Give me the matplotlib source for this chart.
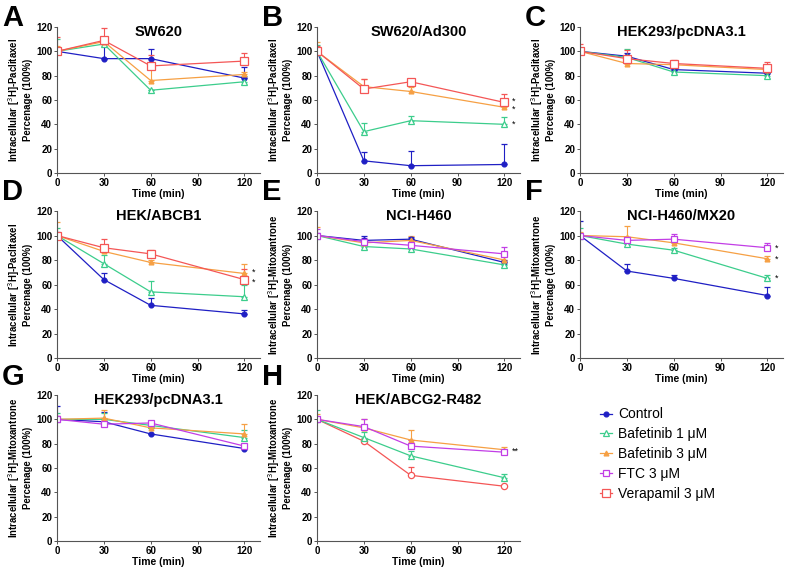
import numpy as np
import matplotlib.pyplot as plt

plt.rcParams['font.family'] = ['Liberation Sans', 'DejaVu Sans']

times = [0, 30, 60, 120]
labels = ["Control", "Bafetinib 1 \u03bcM", "Bafetinib 3 \u03bcM", "FTC 3 \u03bcM", "Verapamil 3 \u03bcM"]
colors = ["#1f1fc4", "#3ccd8c", "#f6a044", "#c23ee6", "#f45656"]

# A  SW620
A_ctrl = [100, 94, 94, 78];  A_ctrl_err = [0, 12, 8, 9]
A_baf1 = [100, 106, 68, 75]; A_baf1_err = [10, 2, 0, 5]
A_baf3 = [100, 108, 76, 81]; A_baf3_err = [4, 2, 18, 2]
A_vera = [100, 109, 88, 92]; A_vera_err = [12, 10, 9, 7]
# B  SW620/Ad300
B_ctrl = [100, 10, 6, 7];    B_ctrl_err = [0, 7, 12, 17]
B_baf1 = [100, 34, 43, 40];  B_baf1_err = [5, 7, 4, 6]
B_baf3 = [100, 71, 67, 54];  B_baf3_err = [8, 6, 4, 2]
B_vera = [100, 69, 75, 58];  B_vera_err = [4, 8, 2, 7]
B_stars = [59, 52, 40]
# C  HEK293/pcDNA3.1 (paclitaxel)
C_ctrl = [100, 96, 85, 82];  C_ctrl_err = [0, 3, 2, 3]
C_baf1 = [100, 95, 83, 80];  C_baf1_err = [0, 7, 3, 2]
C_baf3 = [100, 90, 89, 85];  C_baf3_err = [0, 2, 3, 3]
C_vera = [100, 94, 90, 86];  C_vera_err = [6, 7, 3, 5]
# D  HEK/ABCB1
D_ctrl = [100, 64, 43, 36];  D_ctrl_err = [3, 5, 6, 3]
D_baf1 = [100, 77, 54, 50];  D_baf1_err = [6, 7, 9, 10]
D_baf3 = [100, 87, 78, 69];  D_baf3_err = [11, 5, 2, 8]
D_vera = [100, 90, 85, 64];  D_vera_err = [2, 7, 3, 9]
D_stars = [70, 62]
# E  NCI-H460
E_ctrl = [100, 96, 97, 78];  E_ctrl_err = [2, 4, 2, 2]
E_baf1 = [100, 91, 89, 76];  E_baf1_err = [0, 2, 2, 1]
E_baf3 = [100, 94, 96, 80];  E_baf3_err = [7, 3, 4, 5]
E_ftc = [100, 95, 92, 85];   E_ftc_err = [5, 3, 3, 6]
# F  NCI-H460/MX20
F_ctrl = [100, 71, 65, 51];  F_ctrl_err = [12, 6, 3, 7]
F_baf1 = [100, 93, 88, 65];  F_baf1_err = [6, 2, 2, 3]
F_baf3 = [100, 99, 94, 81];  F_baf3_err = [3, 9, 2, 2]
F_ftc = [100, 96, 97, 90];   F_ftc_err = [0, 3, 4, 4]
F_stars = [90, 81, 65]
# G  HEK293/pcDNA3.1 (mitoxantrone)
G_ctrl = [100, 98, 88, 76];  G_ctrl_err = [11, 8, 0, 2]
G_baf1 = [100, 100, 95, 85]; G_baf1_err = [5, 5, 3, 6]
G_baf3 = [100, 101, 93, 88]; G_baf3_err = [3, 7, 6, 8]
G_ftc = [100, 96, 97, 78];   G_ftc_err = [3, 3, 2, 2]
# H  HEK/ABCG2-R482
H_red = [100, 82, 54, 45];   H_red_err = [0, 2, 7, 0]
H_baf1 = [100, 85, 70, 52];  H_baf1_err = [8, 5, 4, 3]
H_baf3 = [100, 93, 83, 75];  H_baf3_err = [4, 7, 8, 2]
H_ftc = [100, 94, 78, 73];   H_ftc_err = [2, 6, 5, 2]
H_stars = [74]

# marker styles: (marker, filled, size)
sty = {0: ('o', True, 3.5), 1: ('^', False, 4), 2: ('^', True, 3.5), 3: ('s', False, 5), 4: ('s', False, 5.5)}

pac = "Intracellular [$^3$H]-Paclitaxel\nPercenage (100%)"
mit = "Intracellular [$^3$H]-Mitoxantrone\nPercenage (100%)"

panels = [
    ("A", "SW620", pac, [(0, A_ctrl, A_ctrl_err), (1, A_baf1, A_baf1_err), (2, A_baf3, A_baf3_err), (4, A_vera, A_vera_err)], [], "*"),
    ("B", "SW620/Ad300", pac, [(0, B_ctrl, B_ctrl_err), (1, B_baf1, B_baf1_err), (2, B_baf3, B_baf3_err), (4, B_vera, B_vera_err)], B_stars, "*"),
    ("C", "HEK293/pcDNA3.1", pac, [(0, C_ctrl, C_ctrl_err), (1, C_baf1, C_baf1_err), (2, C_baf3, C_baf3_err), (4, C_vera, C_vera_err)], [], "*"),
    ("D", "HEK/ABCB1", pac, [(0, D_ctrl, D_ctrl_err), (1, D_baf1, D_baf1_err), (2, D_baf3, D_baf3_err), (4, D_vera, D_vera_err)], D_stars, "*"),
    ("E", "NCI-H460", mit, [(0, E_ctrl, E_ctrl_err), (1, E_baf1, E_baf1_err), (2, E_baf3, E_baf3_err), (3, E_ftc, E_ftc_err)], [], "*"),
    ("F", "NCI-H460/MX20", mit, [(0, F_ctrl, F_ctrl_err), (1, F_baf1, F_baf1_err), (2, F_baf3, F_baf3_err), (3, F_ftc, F_ftc_err)], F_stars, "*"),
    ("G", "HEK293/pcDNA3.1", mit, [(0, G_ctrl, G_ctrl_err), (1, G_baf1, G_baf1_err), (2, G_baf3, G_baf3_err), (3, G_ftc, G_ftc_err)], [], "*"),
    ("H", "HEK/ABCG2-R482", mit, [(4, H_red, H_red_err), (1, H_baf1, H_baf1_err), (2, H_baf3, H_baf3_err), (3, H_ftc, H_ftc_err)], H_stars, "**"),
]

W, H = 787, 568
fig = plt.figure(figsize=(W / 100, H / 100), dpi=100)

col_x = [57, 317, 580]
row_y = [(27, 173), (211, 358), (395, 541)]
letter_y = [18, 192, 377]
ax_w = 203

for i, (letter, title, ylab, series, stars, star_txt) in enumerate(panels):
    r, c = divmod(i, 3)
    top, bot = row_y[r]
    ax = fig.add_axes([col_x[c] / W, 1 - bot / H, ax_w / W, (bot - top) / H])
    for k, y, e in series:
        m, filled, ms = sty[k]
        if letter == "H" and k == 4:
            m, ms = 'o', 4.5
        ax.errorbar(times, y, yerr=[np.zeros(len(e)), e], color=colors[k], lw=0.9,
                    marker=m, ms=ms, mfc=colors[k] if filled else 'white', mec=colors[k],
                    mew=0.9, capsize=2, elinewidth=0.8, capthick=0.8)
    for s in stars:
        ax.text(125, s, star_txt, fontsize=6.5, va='center', ha='left')
    ax.set_xlim(0, 130)
    ax.set_ylim(0, 120)
    ax.set_xticks([0, 30, 60, 90, 120])
    ax.set_yticks([0, 20, 40, 60, 80, 100, 120])
    for sp in ['top', 'right']:
        ax.spines[sp].set_visible(False)
    for sp in ['left', 'bottom']:
        ax.spines[sp].set_color('#555555')
        ax.spines[sp].set_linewidth(0.8)
    ax.tick_params(labelsize=7, length=2, width=0.7, pad=1.5, color='#555555')
    for t in ax.get_xticklabels() + ax.get_yticklabels():
        t.set_fontweight('bold')
    ax.set_title(title, fontsize=10.5, fontweight='bold', y=0.88)
    ax.set_ylabel(ylab, fontsize=6.9, fontweight='bold', labelpad=2, linespacing=1.1)
    ax.set_xlabel("Time (min)", fontsize=7.5, fontweight='bold', labelpad=1)
    fig.text(2 / W if c == 0 else (col_x[c] - 55) / W, 1 - letter_y[r] / H, letter,
             fontsize=21, fontweight='bold', va='center', ha='left')

# legend
handles = []
for k in range(5):
    m, filled, ms = sty[k]
    h, = plt.plot([], [], color=colors[k], marker=m, ms=ms, lw=0.9,
                  mfc=colors[k] if filled else 'white', mec=colors[k], mew=0.9)
    handles.append(h)
fig.legend(handles, labels, loc='upper left', bbox_to_anchor=(587 / W, 1 - 395 / H),
           frameon=False, fontsize=10, handlelength=0.9, handletextpad=0.45, labelspacing=0.42)

fig.savefig("out.png", dpi=100)
